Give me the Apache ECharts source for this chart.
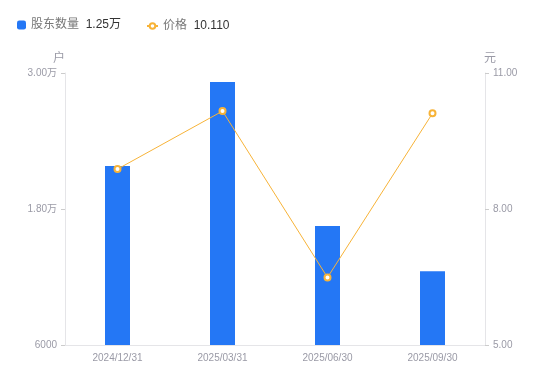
<!DOCTYPE html>
<html>
<head>
<meta charset="utf-8">
<script src="https://cdn.jsdelivr.net/npm/echarts@6/dist/echarts.min.js"></script>
<style>
html,body{margin:0;padding:0;background:#fff;}
#main{width:550px;height:381px;}
</style>
</head>
<body>
<div id="main"></div>
<script>
var dates = ['2024/12/31', '2025/03/31', '2025/06/30', '2025/09/30'];
var holders = [21800, 29200, 16500, 12500];
var prices = [8.88, 10.16, 6.49, 10.11];
var leftTicks = [6000, 18000, 30000];
var rightTicks = [5, 8, 11];
var legendValues = {'股东数量': '1.25万', '价格': '10.110'};

function fmtHolder(v){
	if(v >= 10000){
		return (v/10000).toFixed(2)+'万';
	}
	return String(v);
}

var chart = echarts.init(document.getElementById('main'));
var gray = '#9a9aa6';
var lineGray = '#e5e5e8';
var legendText = {
	rich:{
		n:{color:'#777', fontSize:12},
		v:{color:'#333', fontSize:12}
	}
};
function legendFmt(name){
	return '{n|'+name+'}  {v|'+legendValues[name]+'}';
}

chart.setOption({
	animation:false,
	textStyle:{fontFamily:'Liberation Sans, Noto Sans CJK SC, sans-serif'},
	legend:[
		{
			left:12,
			top:14,
			itemWidth:9,
			itemHeight:9,
			formatter:legendFmt,
			textStyle:legendText,
			data:[{name:'股东数量', icon:'roundRect'}]
		},
		{
			left:141,
			top:15,
			itemWidth:11,
			itemHeight:7,
			formatter:legendFmt,
			textStyle:legendText,
			data:['价格']
		}
	],
	grid:{left:65, right:65, top:73, bottom:36},
	xAxis:{
		type:'category',
		data:dates,
		axisLine:{lineStyle:{color:lineGray}},
		axisTick:{show:false},
		axisLabel:{color:gray, fontSize:10, margin:8}
	},
	yAxis:[
		{
			type:'value',
			name:'户',
			nameGap:8,
			nameTextStyle:{color:gray, fontSize:12, padding:[0,12,0,0]},
			min:6000,
			max:30000,
			splitLine:{show:false},
			axisLine:{show:true, lineStyle:{color:lineGray}},
			axisTick:{show:true, length:4, customValues:leftTicks, lineStyle:{color:'#ccc'}},
			axisLabel:{color:gray, fontSize:10, customValues:leftTicks, formatter:fmtHolder}
		},
		{
			type:'value',
			name:'元',
			nameGap:8,
			nameTextStyle:{color:gray, fontSize:12, padding:[0,0,0,10]},
			min:5,
			max:11,
			splitLine:{show:false},
			axisLine:{show:true, lineStyle:{color:lineGray}},
			axisTick:{show:true, length:4, customValues:rightTicks, lineStyle:{color:'#ccc'}},
			axisLabel:{color:gray, fontSize:10, customValues:rightTicks, formatter:function(v){return v.toFixed(2);}}
		}
	],
	series:[
		{
			name:'股东数量',
			type:'bar',
			data:holders,
			barWidth:25,
			itemStyle:{color:'#2477f5'}
		},
		{
			name:'价格',
			type:'line',
			yAxisIndex:1,
			data:prices,
			symbol:'emptyCircle',
			symbolSize:6,
			lineStyle:{width:1, color:'#f7b338'},
			itemStyle:{color:'#f7b338', borderWidth:2}
		}
	]
});
</script>
</body>
</html>
